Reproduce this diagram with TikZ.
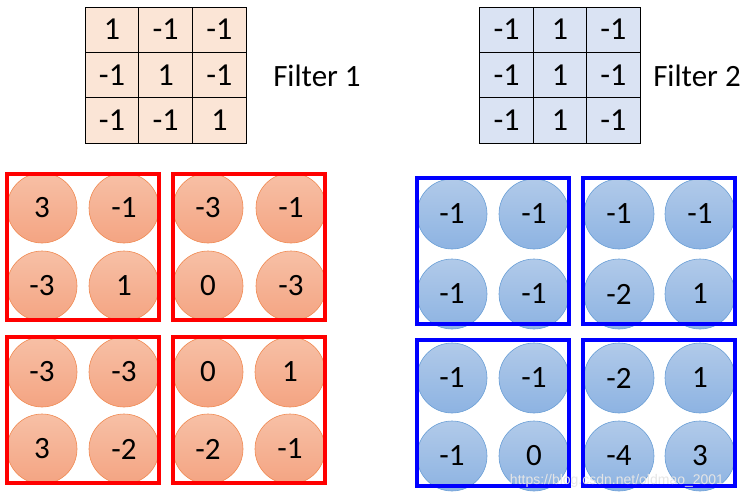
\documentclass[tikz,border=0pt]{standalone}
\usepackage{fontspec}
\setmainfont{Carlito}
\newfontfamily\urlfont{Liberation Sans}
\definecolor{peachcell}{HTML}{FBE5D6}
\definecolor{bluecell}{HTML}{DAE3F3}
\definecolor{redbox}{HTML}{FF0000}
\definecolor{bluebox}{HTML}{0000FF}
\definecolor{redtop}{HTML}{F7C0A6}
\definecolor{redbot}{HTML}{F4A482}
\definecolor{redrim}{HTML}{F08A52}
\definecolor{bluetop}{HTML}{B1CAE9}
\definecolor{bluebot}{HTML}{8DB3E2}
\definecolor{bluerim}{HTML}{6A9FD6}
\tikzset{
  fcell/.style={draw, line width=0.8pt, minimum width=53.7pt, minimum height=45.3pt,
                inner sep=0pt, font=\fontsize{32}{33}\selectfont},
  redcell/.style={fcell, fill=peachcell},
  bluecell/.style={fcell, fill=bluecell},
  flabel/.style={font=\fontsize{31}{33}\selectfont, inner sep=0pt},
  pool/.style={draw, line width=4pt, minimum width=152pt, minimum height=146pt, inner sep=0pt},
  redpool/.style={pool, draw=redbox},
  bluepool/.style={pool, draw=bluebox},
  neuron/.style={circle, minimum size=70pt, inner sep=0pt, line width=0.6pt,
                 font=\fontsize{31}{32}\selectfont},
  redneuron/.style={neuron, draw=redrim, top color=redtop, bottom color=redbot},
  blueneuron/.style={neuron, draw=bluerim, top color=bluetop, bottom color=bluebot},
}
\begin{document}
\begin{tikzpicture}[x=1pt, y=-1pt]
    \useasboundingbox (0,0) rectangle (747,498);
    % filter 1
    \node[redcell] (fa11) at (112.0, 29.7) {1};
    \node[redcell] (fa12) at (165.7, 29.7) {-1};
    \node[redcell] (fa13) at (219.4, 29.7) {-1};
    \node[redcell] (fa21) at (112.0, 75.0) {-1};
    \node[redcell] (fa22) at (165.7, 75.0) {1};
    \node[redcell] (fa23) at (219.4, 75.0) {-1};
    \node[redcell] (fa31) at (112.0, 120.3) {-1};
    \node[redcell] (fa32) at (165.7, 120.3) {-1};
    \node[redcell] (fa33) at (219.4, 120.3) {1};
    \node[flabel] (fa) at (317, 76) {Filter 1};
    % filter 2
    \node[bluecell] (fb11) at (506.7, 29.7) {-1};
    \node[bluecell] (fb12) at (560.0, 29.7) {1};
    \node[bluecell] (fb13) at (613.3, 29.7) {-1};
    \node[bluecell] (fb21) at (506.7, 75.0) {-1};
    \node[bluecell] (fb22) at (560.0, 75.0) {1};
    \node[bluecell] (fb23) at (613.3, 75.0) {-1};
    \node[bluecell] (fb31) at (506.7, 120.3) {-1};
    \node[bluecell] (fb32) at (560.0, 120.3) {1};
    \node[bluecell] (fb33) at (613.3, 120.3) {-1};
    \node[flabel] (fb) at (697, 76) {Filter 2};
    % feature map of filter 1
    \node[redneuron] (ra1) at (42, 208) {3};
    \node[redneuron] (ra2) at (124, 208) {-1};
    \node[redneuron] (ra3) at (42, 286) {-3};
    \node[redneuron] (ra4) at (124, 286) {1};
    \node[redneuron] (rb1) at (208, 208) {-3};
    \node[redneuron] (rb2) at (291, 208) {-1};
    \node[redneuron] (rb3) at (208, 286) {0};
    \node[redneuron] (rb4) at (291, 286) {-3};
    \node[redneuron] (rc1) at (42, 372) {-3};
    \node[redneuron] (rc2) at (124, 372) {-3};
    \node[redneuron] (rc3) at (42, 449) {3};
    \node[redneuron] (rc4) at (124, 449) {-2};
    \node[redneuron] (rd1) at (208, 372) {0};
    \node[redneuron] (rd2) at (290, 372) {1};
    \node[redneuron] (rd3) at (208, 449) {-2};
    \node[redneuron] (rd4) at (290, 449) {-1};
    \node[redpool] (ra) at (83, 247) {};
    \node[redpool] (rb) at (249, 247) {};
    \node[redpool] (rc) at (83, 410) {};
    \node[redpool] (rd) at (249, 410) {};
    % feature map of filter 2
    \node[blueneuron] (ba1) at (452, 214) {-1};
    \node[blueneuron] (ba2) at (534, 214) {-1};
    \node[blueneuron] (ba3) at (452, 294) {-1};
    \node[blueneuron] (ba4) at (534, 294) {-1};
    \node[blueneuron] (bb1) at (619, 214) {-1};
    \node[blueneuron] (bb2) at (700, 214) {-1};
    \node[blueneuron] (bb3) at (619, 294) {-2};
    \node[blueneuron] (bb4) at (700, 294) {1};
    \node[blueneuron] (bc1) at (452, 378) {-1};
    \node[blueneuron] (bc2) at (534, 378) {-1};
    \node[blueneuron] (bc3) at (452, 456) {-1};
    \node[blueneuron] (bc4) at (534, 456) {0};
    \node[blueneuron] (bd1) at (619, 378) {-2};
    \node[blueneuron] (bd2) at (700, 378) {1};
    \node[blueneuron] (bd3) at (619, 456) {-4};
    \node[blueneuron] (bd4) at (700, 456) {3};
    \node[bluepool] (ba) at (492.5, 251) {};
    \node[bluepool] (bb) at (659, 251) {};
    \node[bluepool] (bc) at (493, 412.5) {};
    \node[bluepool] (bd) at (658.5, 412.5) {};
    \node[font=\urlfont\fontsize{14}{15}\selectfont, text=white!80!gray, inner sep=0pt] (wm) at (617, 481) {https://blog.csdn.net/oldmao\_2001};
\end{tikzpicture}
\end{document}
